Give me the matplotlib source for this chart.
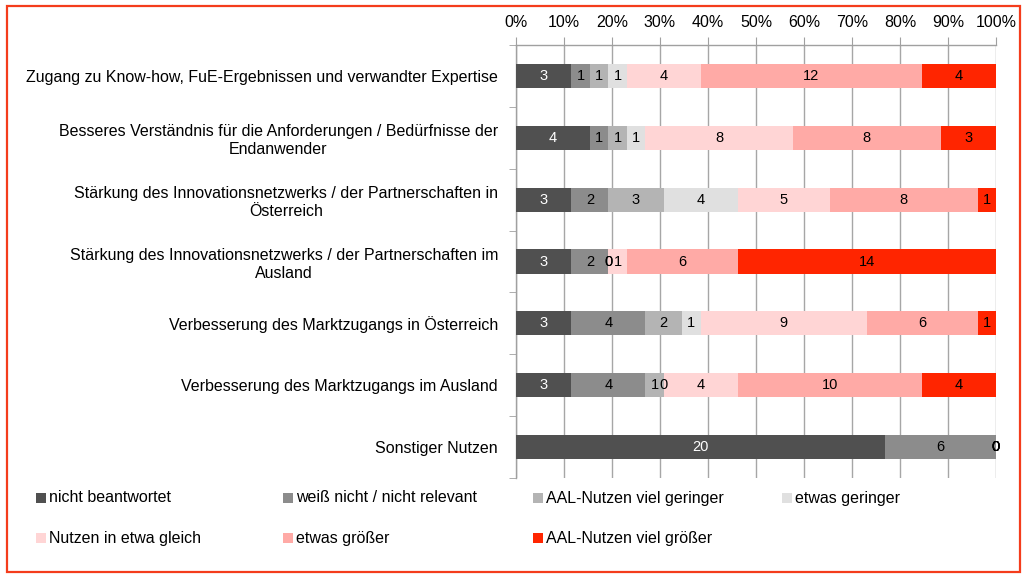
import matplotlib
matplotlib.use("Agg")
import matplotlib.pyplot as plt
from matplotlib.patches import Rectangle
import numpy as np

plt.rcParams['font.family'] = ['Liberation Sans', 'DejaVu Sans']

categories = [
    "Zugang zu Know-how, FuE-Ergebnissen und verwandter Expertise",
    "Besseres Verständnis für die Anforderungen / Bedürfnisse der\nEndanwender",
    "Stärkung des Innovationsnetzwerks / der Partnerschaften in\nÖsterreich",
    "Stärkung des Innovationsnetzwerks / der Partnerschaften im\nAusland",
    "Verbesserung des Marktzugangs in Österreich",
    "Verbesserung des Marktzugangs im Ausland",
    "Sonstiger Nutzen",
]

series_names = [
    "nicht beantwortet",
    "weiß nicht / nicht relevant",
    "AAL-Nutzen viel geringer",
    "etwas geringer",
    "Nutzen in etwa gleich",
    "etwas größer",
    "AAL-Nutzen viel größer",
]

nicht_beantwortet = [3, 4, 3, 3, 3, 3, 20]
weiss_nicht = [1, 1, 2, 2, 4, 4, 6]
viel_geringer = [1, 1, 3, 0, 2, 1, 0]
etwas_geringer = [1, 1, 4, 0, 1, 0, 0]
etwa_gleich = [4, 8, 5, 1, 9, 4, 0]
etwas_groesser = [12, 8, 8, 6, 6, 10, 0]
viel_groesser = [4, 3, 1, 14, 1, 4, 0]

series_values = [nicht_beantwortet, weiss_nicht, viel_geringer, etwas_geringer,
                 etwa_gleich, etwas_groesser, viel_groesser]

colors = ["#505050", "#8c8c8c", "#b4b4b4", "#e0e0e0", "#ffd5d5", "#ffaaa6", "#ff2500"]
text_colors = ["white", "black", "black", "black", "black", "black", "black"]

xtick_labels = ["0%", "10%", "20%", "30%", "40%", "50%", "60%", "70%", "80%", "90%", "100%"]

W, H = 1027, 574
fig = plt.figure(figsize=(W / 100, H / 100), dpi=100)
fig.patch.set_facecolor("white")

ax = fig.add_axes([516 / W, 1 - 478 / H, 480 / W, (478 - 45) / H])

data = np.array(series_values, dtype=float)
totals = data.sum(axis=0)
shares = data / totals * 100
y = np.arange(len(categories))
left = np.zeros(len(categories))
FS = 11.5
VFS = 10.5
for i, name in enumerate(series_names):
    ax.barh(y, shares[i], left=left, height=0.39, color=colors[i],
            label=name, zorder=3)
    # value labels centred in each segment (zero-width segments included)
    for yy, l0, w, v in zip(y, left, shares[i], data[i]):
        ax.text(l0 + w / 2, yy, f"{int(v)}", ha="center", va="center",
                color=text_colors[i], fontsize=VFS, zorder=4, clip_on=False)
    left += shares[i]

ax.set_xlim(0, 100)
ax.set_ylim(len(categories) - 0.5, -0.5)

ax.xaxis.tick_top()
ax.set_xticks(np.arange(0, 101, 10))
ax.set_xticklabels(xtick_labels, fontsize=FS)
ax.tick_params(axis="x", direction="out", length=6, color="#a0a0a0", pad=5)
ax.grid(axis="x", color="#a6a6a6", linewidth=1, zorder=0)

ax.set_yticks(y)
ax.set_yticklabels(categories, fontsize=FS, multialignment="center",
                   linespacing=1.25)
ax.tick_params(axis="y", length=0, pad=13)
ax.set_yticks(np.arange(-0.5, len(categories), 1), minor=True)
ax.tick_params(axis="y", which="minor", length=5, color="#a0a0a0", direction="out")

for side in ("right", "bottom"):
    ax.spines[side].set_visible(False)
for side in ("top", "left"):
    ax.spines[side].set_color("#a0a0a0")
    ax.spines[side].set_linewidth(1)

# legend: two rows of four entries
leg_x = [36, 283, 533, 782]
leg_y = [498, 538]
for k, name in enumerate(series_names):
    r, c = divmod(k, 4)
    px, py = leg_x[c], leg_y[r]
    fig.patches.append(Rectangle((px / W, 1 - (py + 5) / H), 10 / W, 10 / H,
                                 transform=fig.transFigure, facecolor=colors[k],
                                 edgecolor="none"))
    fig.text((px + 13) / W, 1 - py / H, name, fontsize=FS, va="center", ha="left")

# outer frame
fig.patches.append(Rectangle((6.5 / W, 1 - 571.5 / H), 1013 / W, 566 / H,
                             transform=fig.transFigure, facecolor="none",
                             edgecolor="#f43c1c", linewidth=1.6))

fig.savefig("out.png", dpi=100)
